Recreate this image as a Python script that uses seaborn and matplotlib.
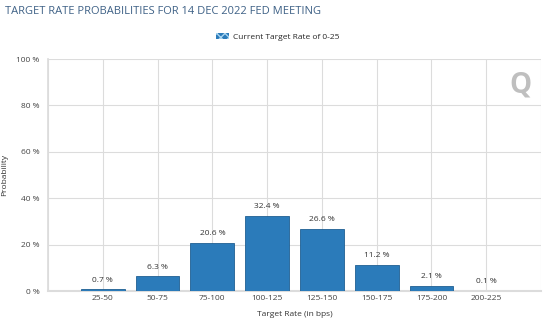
import matplotlib
matplotlib.use("Agg")
import matplotlib.pyplot as plt
import seaborn as sns
import pandas as pd
from matplotlib.patches import Patch

categories = ["25-50", "50-75", "75-100", "100-125", "125-150", "150-175", "175-200", "200-225"]
probabilities = [0.7, 6.3, 20.6, 32.4, 26.6, 11.2, 2.1, 0.1]
y_ticks = [0, 20, 40, 60, 80, 100]

df = pd.DataFrame({"rate": categories, "prob": probabilities})

sns.set_theme(style="white")
plt.rcParams["font.family"] = ["Open Sans", "DejaVu Sans"]
plt.rcParams["hatch.color"] = "#a8d4f0"

W, H = 555, 329
fig = plt.figure(figsize=(W / 100, H / 100), dpi=100)
ax = fig.add_axes([48 / W, 1 - 291 / H, (541 - 48) / W, (291 - 59) / H])

bar_color = "#2b7bba"
sns.barplot(data=df, x="rate", y="prob", color=bar_color, width=0.8, ax=ax,
            edgecolor="#1f5f93", linewidth=0.6, saturation=1, zorder=3)

ax.set_xlim(-1, len(categories))
ax.set_ylim(0, 100)
ax.set_yticks(y_ticks)
ax.set_yticklabels([f"{v} %" for v in y_ticks])
ax.set_xticks(range(len(categories)))
ax.set_xticklabels(categories)

grid_c = "#dcdcdc"
ax.grid(True, axis="both", color=grid_c, linewidth=0.8, zorder=0)
for x in [-1, len(categories)]:
    ax.axvline(x, color=grid_c, linewidth=0.8, zorder=0)
for s in ["top", "right"]:
    ax.spines[s].set_visible(False)
ax.spines["left"].set_color(grid_c)
ax.spines["bottom"].set_color(grid_c)
ax.spines["bottom"].set_linewidth(1.5)
ax.tick_params(axis="both", labelsize=6, colors="#444444", length=3, width=0.8, pad=3)
ax.tick_params(axis="x", color=grid_c, length=0)
ax.tick_params(axis="y", color=grid_c)

for i, v in enumerate(probabilities):
    ax.text(i, v + 2.5, f"{v} %", ha="center", va="bottom", fontsize=6, color="#333333")

ax.set_xlabel("Target Rate (in bps)", fontsize=6, color="#333333", labelpad=6)
ax.set_ylabel("Probability", fontsize=6, color="#333333", labelpad=6)

fig.text(5 / W, 1 - 11 / H, "TARGET RATE PROBABILITIES FOR 14 DEC 2022 FED MEETING",
         fontsize=8, color="#3e6186", ha="left", va="center")

handle = Patch(facecolor=bar_color, edgecolor="#a8d4f0", hatch="xxxx", linewidth=0)
fig.legend(handles=[handle], labels=["Current Target Rate of 0-25"], loc="center",
           bbox_to_anchor=(0.5, 1 - 37 / H), frameon=False, fontsize=6,
           handlelength=1.6, handleheight=0.8, handletextpad=0.4)

fig.text(520 / W, 1 - 85 / H, "Q", fontsize=20, color="#bfbfbf", fontweight="bold",
         ha="center", va="center")

fig.savefig("out.png", dpi=100)
